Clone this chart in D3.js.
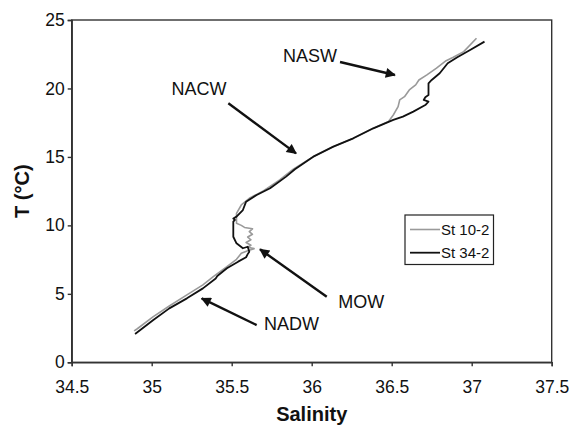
<!DOCTYPE html>
<html>
<head>
<meta charset="utf-8">
<script src="https://cdn.jsdelivr.net/npm/d3@7"></script>
<style>
  html, body { margin: 0; padding: 0; background: #fff; }
  svg { display: block; font-family: "Liberation Sans", Arial, sans-serif; }
</style>
</head>
<body>
<svg id="chart" width="571" height="425"></svg>
<script>
// ---- Data ----
const xTicks = [34.5, 35, 35.5, 36, 36.5, 37, 37.5];
const yTicks = [0, 5, 10, 15, 20, 25];
const seriesNames = ["St 10-2", "St 34-2"];

const st10Sal = [34.89, 34.91, 35.01, 35.11, 35.22, 35.32, 35.385, 35.47, 35.53, 35.56, 35.60, 35.64, 35.60, 35.62, 35.59, 35.62, 35.60, 35.63, 35.61, 35.63, 35.58, 35.56, 35.53, 35.53, 35.56, 35.61, 35.70, 35.80, 35.885, 36.0, 36.135, 36.26, 36.385, 36.48, 36.51, 36.54, 36.55, 36.58, 36.61, 36.65, 36.67, 36.72, 36.78, 36.84, 36.885, 36.95, 37.03];
const st10Temp = [2.30, 2.45, 3.33, 4.11, 4.92, 5.65, 6.25, 6.98, 7.52, 7.96, 8.15, 8.30, 8.40, 8.55, 8.75, 8.95, 9.15, 9.35, 9.55, 9.75, 9.85, 10.0, 10.15, 10.88, 11.49, 11.98, 12.53, 13.32, 14.1, 14.95, 15.75, 16.36, 17.09, 17.58, 18.06, 18.67, 19.16, 19.40, 19.89, 20.26, 20.62, 20.99, 21.48, 22.03, 22.28, 22.69, 23.67];

const st34Sal = [34.896, 35.01, 35.11, 35.22, 35.32, 35.40, 35.41, 35.47, 35.54, 35.59, 35.60, 35.61, 35.60, 35.57, 35.53, 35.51, 35.51, 35.51, 35.52, 35.51, 35.53, 35.57, 35.59, 35.656, 35.74, 35.84, 35.895, 36.01, 36.135, 36.26, 36.385, 36.51, 36.57, 36.635, 36.71, 36.73, 36.70, 36.71, 36.73, 36.73, 36.75, 36.80, 36.85, 36.91, 36.99, 37.08];
const st34Temp = [2.07, 3.09, 3.94, 4.67, 5.40, 6.12, 6.30, 6.87, 7.35, 7.67, 7.90, 8.08, 8.44, 8.33, 8.69, 9.17, 9.90, 10.27, 10.40, 10.50, 10.64, 11.12, 11.73, 12.22, 12.71, 13.56, 14.1, 15.02, 15.75, 16.36, 17.09, 17.70, 17.94, 18.31, 18.79, 19.04, 19.16, 19.36, 19.52, 20.38, 20.62, 21.11, 21.84, 22.28, 22.81, 23.42];

// Annotations (data coordinates)
const annLabels = ["NACW", "NASW", "MOW", "NADW"];
const annLabelSal = [35.296, 35.989, 36.31, 35.874];
const annLabelTemp = [19.52, 21.95, 3.94, 2.36];
const annFromSal = [35.479, 36.177, 36.094, 35.656];
const annFromTemp = [18.92, 21.93, 4.79, 2.72];
const annToSal = [35.902, 36.52, 35.677, 35.3125];
const annToTemp = [15.26, 20.98, 8.25, 4.67];

// ---- Layout ----
const svg = d3.select("#chart");
const L = 71.7, R = 551.7, T = 20, B = 362.3;
const x = d3.scaleLinear().domain([34.5, 37.5]).range([L, R]);
const y = d3.scaleLinear().domain([0, 25]).range([B, T]);

const axisColor = "#333";

// frame
svg.append("rect").attr("x", L).attr("y", T).attr("width", R - L).attr("height", B - T)
  .attr("fill", "none").attr("stroke", axisColor).attr("stroke-width", 1.4);

// axes
const xAxis = svg.append("g").attr("transform", `translate(0,${B})`)
  .call(d3.axisBottom(x).tickValues(xTicks).tickSize(4).tickPadding(4).tickFormat(d => String(d)));
const yAxis = svg.append("g").attr("transform", `translate(${L},0)`)
  .call(d3.axisLeft(y).tickValues(yTicks).tickSize(4).tickPadding(3).tickFormat(d => String(d)));
[xAxis, yAxis].forEach(g => {
  g.select(".domain").attr("stroke", axisColor).attr("stroke-width", 1.4);
  g.selectAll(".tick line").attr("stroke", axisColor).attr("stroke-width", 1.4);
  g.selectAll(".tick text").attr("fill", "#111").style("font-size", "17.5px")
    .style("font-family", "'Liberation Sans', Arial, sans-serif");
});
xAxis.selectAll(".tick text").attr("dy", "1.3em");

// axis titles
svg.append("text").attr("x", (L + R) / 2).attr("y", 421)
  .attr("text-anchor", "middle").style("font-size", "20px").style("font-weight", "bold")
  .attr("fill", "#111").text("Salinity");
svg.append("text").attr("transform", `translate(29,${(T + B) / 2}) rotate(-90)`)
  .attr("text-anchor", "middle").style("font-size", "20px").style("font-weight", "bold")
  .attr("fill", "#111").text("T (°C)");

// lines
const line = d3.line().x(d => x(d[0])).y(d => y(d[1]));
const st10 = st10Sal.map((s, i) => [s, st10Temp[i]]);
const st34 = st34Sal.map((s, i) => [s, st34Temp[i]]);
svg.append("path").datum(st10).attr("d", line).attr("fill", "none")
  .attr("stroke", "#9a9a9a").attr("stroke-width", 1.6).attr("stroke-linejoin", "round");
svg.append("path").datum(st34).attr("d", line).attr("fill", "none")
  .attr("stroke", "#111").attr("stroke-width", 1.8).attr("stroke-linejoin", "round");

// arrows
const defs = svg.append("defs");
defs.append("marker").attr("id", "arrow").attr("viewBox", "0 0 10 10")
  .attr("refX", 9).attr("refY", 5).attr("markerWidth", 5).attr("markerHeight", 4.2)
  .attr("markerUnits", "strokeWidth").attr("orient", "auto")
  .append("path").attr("d", "M0,0 L10,5 L0,10 z").attr("fill", "#111");

annLabels.forEach((lab, i) => {
  svg.append("line")
    .attr("x1", x(annFromSal[i])).attr("y1", y(annFromTemp[i]))
    .attr("x2", x(annToSal[i])).attr("y2", y(annToTemp[i]))
    .attr("stroke", "#111").attr("stroke-width", 2.4).attr("marker-end", "url(#arrow)");
  svg.append("text").attr("x", x(annLabelSal[i])).attr("y", y(annLabelTemp[i]))
    .attr("text-anchor", "middle").style("font-size", "18px").attr("fill", "#111").text(lab);
});

// legend
const lg = svg.append("g");
lg.append("rect").attr("x", 405).attr("y", 215).attr("width", 88.5).attr("height", 49.5)
  .attr("fill", "#fff").attr("stroke", "#222").attr("stroke-width", 1.2);
const legColors = ["#9a9a9a", "#111"];
seriesNames.forEach((n, i) => {
  const yy = 229.5 + i * 23.2;
  lg.append("line").attr("x1", 410).attr("x2", 440).attr("y1", yy).attr("y2", yy)
    .attr("stroke", legColors[i]).attr("stroke-width", i ? 1.8 : 1.6);
  lg.append("text").attr("x", 441).attr("y", yy + 5.2).style("font-size", "15px")
    .attr("fill", "#111").text(n);
});
</script>
</body>
</html>
